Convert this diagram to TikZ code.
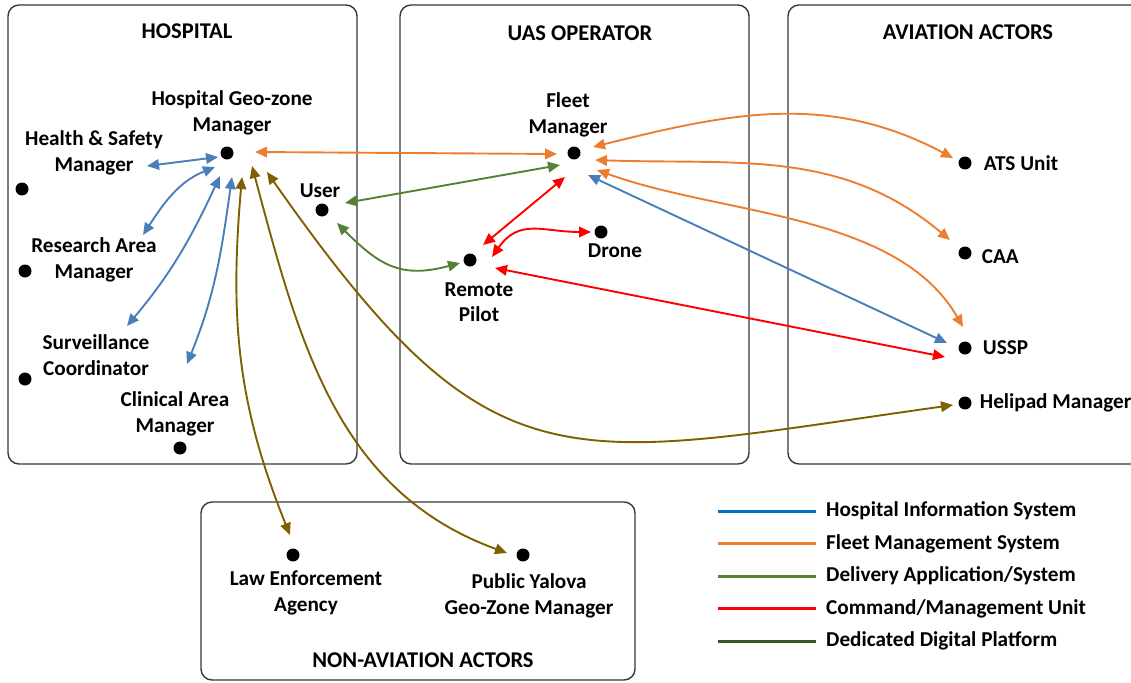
\documentclass[tikz,border=0pt]{standalone}
\usepackage{fontspec}
\setmainfont{Carlito}
\usetikzlibrary{arrows.meta,positioning}
\definecolor{hisblue}{HTML}{4A7EBB}
\definecolor{legblue}{HTML}{0070C0}
\definecolor{fmsorange}{HTML}{ED7D31}
\definecolor{dasgreen}{HTML}{548235}
\definecolor{cmured}{HTML}{FF0000}
\definecolor{ddpolive}{HTML}{7F6000}
\definecolor{ddpgreen}{HTML}{375623}

\begin{document}
\begin{tikzpicture}[x=1pt,y=-1pt,
	font=\fontsize{21.2}{25.5}\selectfont\bfseries,
	actor/.style={circle,fill=black,inner sep=0pt,minimum size=13pt}, % black dot of an actor
	txt/.style={align=center,inner sep=0pt},
	title/.style={txt,font=\fontsize{22.5}{26}\selectfont\bfseries},
	frame/.style={draw=black!78,line width=1.4pt,rounded corners=11pt},
	link/.style={line width=1.9pt,>={Triangle[length=12pt,width=10.5pt]},<->},
	his/.style={link,draw=hisblue},
	fms/.style={link,draw=fmsorange},
	das/.style={link,draw=dasgreen},
	cmu/.style={link,draw=cmured},
	ddp/.style={link,draw=ddpolive}
]
	\useasboundingbox (0,0) rectangle (1131,682);
	%% frames
	\draw[frame] (8,5) rectangle (357,464);
	\draw[frame] (400,5) rectangle (749,464);
	\draw[frame] (788,5) rectangle (1150,464);
	\draw[frame] (201,502) rectangle (635,680);
	\node[title] (hosp) at (187,31) {HOSPITAL};
	\node[title] (uas) at (580,33) {UAS OPERATOR};
	\node[title] (avia) at (968,32) {AVIATION ACTORS};
	\node[title] (nonavia) at (423,660) {NON-AVIATION ACTORS};

	%% hospital
	\node[actor] (hgzm) at (227,153) {};
	\node[txt] (hgzmtxt) at (232,113) {Hospital Geo-zone\\Manager};
	\node[actor] (hsm) at (22,189) {};
	\node[txt] (hsmtxt) at (94,153) {Health \& Safety\\Manager};
	\node[actor] (ram) at (25,271) {};
	\node[txt] (ramtxt) at (94,260) {Research Area\\Manager};
	\node[actor] (sc) at (25,379) {};
	\node[txt] (sctxt) at (96,355) {Surveillance\\Coordinator};
	\node[actor] (cam) at (180,448) {};
	\node[txt] (camtxt) at (175,414) {Clinical Area\\Manager};

	%% uas operator
	\node[actor] (user) at (322,210) {};
	\node[txt] (usertxt) at (320,191) {User};
	\node[actor] (fm) at (574,153) {};
	\node[txt] (fmtxt) at (568,115) {Fleet\\Manager};
	\node[actor] (drone) at (601,232) {};
	\node[txt] (dronetxt) at (615,251) {Drone};
	\node[actor] (rp) at (470,260) {};
	\node[txt] (rptxt) at (479,302) {Remote\\Pilot};

	%% aviation actors
	\node[actor] (ats) at (965,163) {};
	\node[txt,right=12pt of ats] (atstxt) {ATS Unit};
	\node[actor] (caa) at (965,253) {};
	\node[txt,right=10pt of caa,yshift=-4pt] (caatxt) {CAA};
	\node[actor] (ussp) at (965,348) {};
	\node[txt,right=11pt of ussp] (ussptxt) {USSP};
	\node[actor] (heli) at (965,403) {};
	\node[txt,right=8pt of heli] (helitxt) {Helipad Manager};

	%% non-aviation actors
	\node[actor] (lea) at (293,555) {};
	\node[txt] (leatxt) at (306,593) {Law Enforcement\\Agency};
	\node[actor] (pyg) at (523,555) {};
	\node[txt] (pygtxt) at (529,596) {Public Yalova\\Geo-Zone Manager};

	%% hospital information system
	\draw[his] ([shift={(-9,4)}]hgzm.center) -- ([shift={(53,13)}]hsmtxt.center);
	\draw[his] ([shift={(-12,14)}]hgzm.center) to[out=202,in=57] ([shift={(49,-25)}]ramtxt.center);
	\draw[his] ([shift={(-7,23)}]hgzm.center) to[out=245,in=50] ([shift={(31,-29)}]sctxt.center);
	\draw[his] ([shift={(5,24)}]hgzm.center) to[out=262,in=68] ([shift={(12,-50)}]camtxt.center);
	\draw[his] ([shift={(14,22)}]fm.center) -- ([shift={(-18,-5)}]ussp.center);
	%% fleet management system
	\draw[fms] ([shift={(28,-1)}]hgzm.center) -- ([shift={(-17,1)}]fm.center);
	\draw[fms] ([shift={(19,-6)}]fm.center) to[out=14,in=152] ([shift={(-12,-5)}]ats.center);
	\draw[fms] ([shift={(21,7)}]fm.center) to[out=-2,in=140] ([shift={(-15,-13)}]caa.center);
	\draw[fms] ([shift={(23,17)}]fm.center) to[out=-20,in=120,looseness=0.85] ([shift={(-2,-21)}]ussp.center);
	%% delivery application
	\draw[das] ([shift={(23,-7)}]user.center) -- ([shift={(-14,12)}]fm.center);
	\draw[das] ([shift={(15,13)}]user.center) to[out=-45,in=195,looseness=1.2] ([shift={(-10,3)}]rp.center);
	%% command / management unit
	\draw[cmu] ([shift={(-9,24)}]fm.center) -- ([shift={(13,-15)}]rp.center);
	\draw[cmu] ([shift={(22,-3)}]rp.center) to[out=55,in=180,looseness=1.2] ([shift={(-10,0)}]drone.center);
	\draw[cmu] ([shift={(25,8)}]rp.center) -- ([shift={(-20,9)}]ussp.center);
	%% dedicated digital platform
	\draw[ddp] ([shift={(15,24)}]hgzm.center) to[out=-95,in=112] ([shift={(-3,-20)}]lea.center);
	\draw[ddp] ([shift={(25,13)}]hgzm.center) to[out=-75,in=160] ([shift={(-16,-2)}]pyg.center);
	\draw[ddp] ([shift={(40,19)}]hgzm.center) to[out=-55,in=188,looseness=1.4] ([shift={(-12,2)}]heli.center);

	%% legend
	\foreach \col/\name [count=\i] in {legblue/{Hospital Information System},
			fmsorange/{Fleet Management System},
			dasgreen/{Delivery Application/System},
			cmured/{Command/Management Unit},
			ddpgreen/{Dedicated Digital Platform}}{
		\coordinate (legs\i) at (718,478.5+32.5*\i);
		\coordinate (lege\i) at (816,478.5+32.5*\i);
		\draw[line width=3pt,\col] (legs\i) -- (lege\i);
		\node[txt,right=10pt of lege\i] (legtxt\i) {\name};
	}
\end{tikzpicture}
\end{document}
